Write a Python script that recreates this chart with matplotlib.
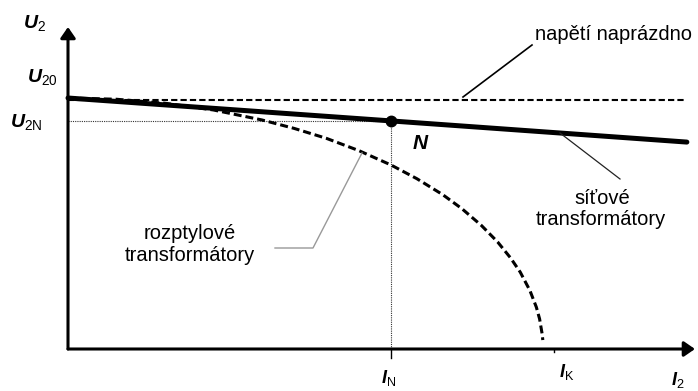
import matplotlib
matplotlib.use('Agg')
from matplotlib import pyplot as plt

plt.rcParams['font.family'] = ['Liberation Sans', 'DejaVu Sans']
plt.rcParams['mathtext.fontset'] = 'custom'
plt.rcParams['mathtext.rm'] = 'Liberation Sans'
plt.rcParams['mathtext.it'] = 'Liberation Sans:italic:bold'
plt.rcParams['mathtext.bf'] = 'Liberation Sans:bold'

# data, I in units of I_N, U in units of U20
I_noload = [0.0, 1.91]
U_noload = [1.0, 1.0]

I_grid = [0.0, 1.0, 1.916]          # sitove transformatory
U_grid = [1.008, 0.916, 0.831]

# rozptylove transformatory
I_leak = [0.0, 0.15, 0.30, 0.45, 0.60, 0.70, 0.80, 0.90, 1.00, 1.08,
          1.16, 1.22, 1.28, 1.33, 1.37, 1.40, 1.43, 1.45, 1.46, 1.468, 1.470]
U_leak = [1.008, 1.003, 0.987, 0.960, 0.920, 0.886, 0.846, 0.797, 0.739, 0.684,
          0.620, 0.563, 0.496, 0.430, 0.366, 0.309, 0.235, 0.168, 0.121, 0.060, 0.036]

I_N, U_2N = 1.0, 0.916
I_K = 1.505
I_max, U_max = 1.941, 1.293

# pixel -> data helper (only for placing labels)
X0, SX = 68, 323.0
Y0, SY = 349, 249.0
def px(x, y):
    return ((x - X0) / SX, (Y0 - y) / SY)

fig = plt.figure(figsize=(6.98, 3.91), dpi=100)
ax = fig.add_axes([0, 0, 1, 1])
ax.set_xlim(px(0, 0)[0], px(698, 0)[0])
ax.set_ylim(px(0, 391)[1], px(0, 0)[1])
ax.axis('off')

# axes with arrows
arr = dict(arrowstyle='-|>,head_length=0.65,head_width=0.45', lw=2.2,
           color='k', mutation_scale=10, shrinkA=0, shrinkB=0)
ax.annotate('', xy=(I_max, 0), xytext=(0, 0), arrowprops=arr)
ax.annotate('', xy=(0, U_max), xytext=(0, 0), arrowprops=arr)

# dotted helper lines
ax.plot([0, I_N], [U_2N, U_2N], color='#333333', lw=0.8, ls=(0, (1, 1)))
ax.plot([I_N, I_N], [0, U_2N], color='#333333', lw=0.8, ls=(0, (1, 1)))
# small ticks under x axis
ax.plot([I_N, I_N], [0, -9 / SY], color='k', lw=1.0)
ax.plot([I_K, I_K], [0, -3 / SY], color='k', lw=1.0)

# curves
ax.plot(I_noload, U_noload, color='k', lw=1.5, ls=(0, (3, 1.5)))
ax.plot(I_leak, U_leak, color='k', lw=2.2, ls=(0, (2.6, 1.3)))
ax.plot(I_grid, U_grid, color='k', lw=3.6, solid_capstyle='round')
ax.plot([I_N], [U_2N], 'o', color='k', ms=7.5)

# leader lines
ax.plot(*zip(px(463, 97), px(532, 45)), color='k', lw=1.2)
ax.plot(*zip(px(560, 133), px(620, 179)), color='#222222', lw=0.9)
ax.plot(*zip(px(275, 248), px(313, 248), px(362, 153)), color='#999999', lw=1.0)

# labels
fs = 14.5
ax.text(*px(535, 40), 'napětí naprázdno', fontsize=fs, ha='left', va='baseline')
ax.text(*px(190, 239), 'rozptylové', fontsize=fs, ha='center', va='baseline')
ax.text(*px(190, 261), 'transformátory', fontsize=fs, ha='center', va='baseline')
ax.text(*px(602, 204), 'síťové', fontsize=fs, ha='center', va='baseline')
ax.text(*px(601, 225), 'transformátory', fontsize=fs, ha='center', va='baseline')

ax.text(*px(23, 28), r'$U_{\rm 2}$', fontsize=14, ha='left', va='baseline')
ax.text(*px(27, 82), r'$U_{\rm 20}$', fontsize=14, ha='left', va='baseline')
ax.text(*px(10, 127), r'$U_{\rm 2N}$', fontsize=14, ha='left', va='baseline')
ax.text(*px(412, 149), r'$N$', fontsize=15, ha='left', va='baseline')
ax.text(*px(381, 383), r'$I_{\rm N}$', fontsize=13, ha='left', va='baseline')
ax.text(*px(559, 377), r'$I_{\rm K}$', fontsize=13, ha='left', va='baseline')
ax.text(*px(671, 385), r'$I_{\rm 2}$', fontsize=13, ha='left', va='baseline')

fig.savefig('out.png', dpi=100)
print("created output out.png")
